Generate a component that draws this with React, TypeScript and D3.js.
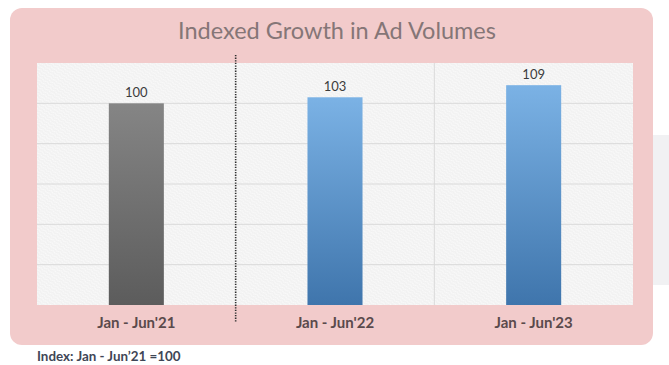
import { useEffect, useRef } from "react";
import * as d3 from "d3";

// chart data
const categories = ["Jan - Jun'21", "Jan - Jun'22", "Jan - Jun'23"];
const values = [100, 103, 109];
const yTicks = [0, 20, 40, 60, 80, 100, 120];
const title = "Indexed Growth in Ad Volumes";
const footnote = "Index: Jan - Jun’21 =100";

const App = () => {
  const svgRef = useRef<SVGSVGElement | null>(null);

  useEffect(() => {
    const W = 669;
    const H = 365;
    const plot = { left: 37, right: 633, top: 63, bottom: 305 };

    const svg = d3.select(svgRef.current).attr("width", W).attr("height", H);
    svg.selectAll("*").remove();

    const defs = svg.append("defs");

    // textured plot background
    const pat = defs
      .append("pattern")
      .attr("id", "tex")
      .attr("width", 6)
      .attr("height", 6)
      .attr("patternUnits", "userSpaceOnUse")
      .attr("patternTransform", "rotate(35)");
    pat.append("rect").attr("width", 6).attr("height", 6).attr("fill", "#f1f1f1");
    pat
      .append("path")
      .attr("d", "M0,1.5 Q1.5,0 3,1.5 T6,1.5 M0,4.5 Q1.5,3 3,4.5 T6,4.5")
      .attr("stroke", "#fcfcfc")
      .attr("stroke-width", 1)
      .attr("fill", "none");

    const gray = defs
      .append("linearGradient")
      .attr("id", "grayGrad")
      .attr("x1", 0)
      .attr("y1", 0)
      .attr("x2", 0)
      .attr("y2", 1);
    gray.append("stop").attr("offset", "0%").attr("stop-color", "#858585");
    gray.append("stop").attr("offset", "100%").attr("stop-color", "#5c5c5c");

    const blue = defs
      .append("linearGradient")
      .attr("id", "blueGrad")
      .attr("x1", 0)
      .attr("y1", 0)
      .attr("x2", 0)
      .attr("y2", 1);
    blue.append("stop").attr("offset", "0%").attr("stop-color", "#7bb2e5");
    blue.append("stop").attr("offset", "100%").attr("stop-color", "#3f75ac");

    // page background bits
    svg.append("rect").attr("width", W).attr("height", H).attr("fill", "#ffffff");
    svg
      .append("rect")
      .attr("x", 640)
      .attr("y", 135)
      .attr("width", 40)
      .attr("height", 150)
      .attr("rx", 8)
      .attr("fill", "#f1f1f3");

    // pink panel
    svg
      .append("rect")
      .attr("x", 10)
      .attr("y", 8)
      .attr("width", 643)
      .attr("height", 337)
      .attr("rx", 12)
      .attr("fill", "#f2cbcb");

    // title
    svg
      .append("text")
      .attr("x", 337)
      .attr("y", 39)
      .attr("text-anchor", "middle")
      .style("font-family", "Lato, sans-serif")
      .style("font-size", "23.5px")
      .style("fill", "#857677")
      .text(title);

    const x = d3
      .scaleBand()
      .domain(categories)
      .range([plot.left, plot.right])
      .padding(0);

    const y = d3.scaleLinear().domain([0, 120]).range([plot.bottom, plot.top]);

    const g = svg.append("g");

    g.append("rect")
      .attr("x", plot.left)
      .attr("y", plot.top)
      .attr("width", plot.right - plot.left)
      .attr("height", plot.bottom - plot.top)
      .attr("fill", "url(#tex)");

    // horizontal gridlines
    g.selectAll(".hgrid")
      .data(yTicks.filter((t) => t > 0 && t < 120))
      .enter()
      .append("line")
      .attr("x1", plot.left)
      .attr("x2", plot.right)
      .attr("y1", (d) => y(d))
      .attr("y2", (d) => y(d))
      .attr("stroke", "#dadada")
      .attr("stroke-width", 1);

    // vertical gridline between 2nd and 3rd category
    const bounds = categories.slice(1).map((c) => x(c)!);
    g.append("line")
      .attr("x1", bounds[1])
      .attr("x2", bounds[1])
      .attr("y1", plot.top)
      .attr("y2", plot.bottom)
      .attr("stroke", "#dadada")
      .attr("stroke-width", 1);

    // bars
    const barW = x.bandwidth() * 0.277;
    g.selectAll(".bar")
      .data(values)
      .enter()
      .append("rect")
      .attr("x", (d, i) => x(categories[i])! + (x.bandwidth() - barW) / 2)
      .attr("y", (d) => y(d))
      .attr("width", barW)
      .attr("height", (d) => plot.bottom - y(d))
      .attr("fill", (d, i) => (i === 0 ? "url(#grayGrad)" : "url(#blueGrad)"));

    // value labels
    g.selectAll(".val")
      .data(values)
      .enter()
      .append("text")
      .attr("x", (d, i) => x(categories[i])! + x.bandwidth() / 2)
      .attr("y", (d) => y(d) - 6)
      .attr("text-anchor", "middle")
      .style("font-family", "Lato, sans-serif")
      .style("font-size", "13px")
      .style("fill", "#3c3c3c")
      .text((d) => d);

    // dotted divider
    svg
      .append("line")
      .attr("x1", bounds[0])
      .attr("x2", bounds[0])
      .attr("y1", 55)
      .attr("y2", 322)
      .attr("stroke", "#2e2e2e")
      .attr("stroke-width", 1.6)
      .attr("stroke-dasharray", "1.3,1.3");

    // category labels
    g.selectAll(".cat")
      .data(categories)
      .enter()
      .append("text")
      .attr("x", (d) => x(d)! + x.bandwidth() / 2)
      .attr("y", 328)
      .attr("text-anchor", "middle")
      .style("font-family", "Lato, sans-serif")
      .style("font-weight", "bold")
      .style("font-size", "15px")
      .style("fill", "#5a4a4c")
      .text((d) => d);

    // footnote
    svg
      .append("text")
      .attr("x", 37)
      .attr("y", 361)
      .style("font-family", "Lato, sans-serif")
      .style("font-weight", "bold")
      .style("font-size", "13.4px")
      .style("fill", "#3f4656")
      .text(footnote);
  }, []);

  return (
    <div style={{ position: "absolute", left: 0, top: 0 }}>
      <svg ref={svgRef}></svg>
    </div>
  );
};

export default App;
